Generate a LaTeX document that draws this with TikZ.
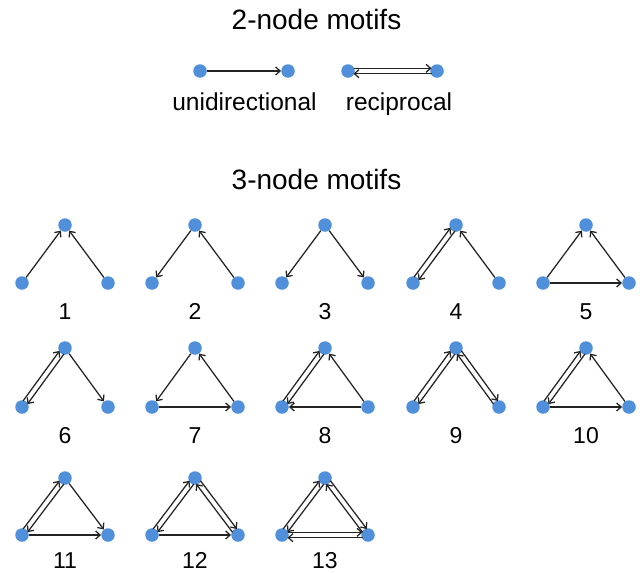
\documentclass[tikz,border=0pt]{standalone}
\usepackage{fontspec}
\setmainfont{Liberation Sans}
\usetikzlibrary{calc,arrows.meta}
\definecolor{nodeblue}{RGB}{80,143,218}
\definecolor{edgegray}{RGB}{35,35,35}
\tikzset{
  dot/.style={circle,fill=nodeblue,inner sep=0pt,minimum size=13.5pt},
  arr/.style={draw=edgegray,line width=1.25pt,-{Straight Barb[length=4.5pt,width=8pt]}},
  title/.style={font=\fontsize{28}{32}\selectfont,inner sep=0pt},
  sub/.style={font=\fontsize{24.5}{28}\selectfont,inner sep=0pt},
  num/.style={font=\fontsize{23}{26}\selectfont,inner sep=0pt,anchor=north},
}
% one-way edge
\newcommand{\uni}[2]{\draw[arr] (#1) -- (#2);}
% reciprocal edge: two parallel lines with opposite arrows
\newcommand{\recip}[2]{%
  \draw[arr,shorten <=5.5pt,shorten >=5.5pt] ($(#1)!2.7pt!90:(#2)$) -- ($(#2)!2.7pt!-90:(#1)$);
  \draw[arr,shorten <=5.5pt,shorten >=5.5pt] ($(#2)!2.7pt!90:(#1)$) -- ($(#1)!2.7pt!-90:(#2)$);}
% triangle of three nodes: name prefix, centre x, top y, bottom y
\newcommand{\tri}[4]{%
  \node[dot] (#1t) at (#2,#3) {};
  \node[dot] (#1l) at (#2-43,#4) {};
  \node[dot] (#1r) at (#2+43,#4) {};}
\begin{document}
\begin{tikzpicture}[x=1pt,y=-1pt]
\useasboundingbox (0,0) rectangle (640,573);
\fill[white] (0,0) rectangle (640,573);

\node[title,anchor=north] (t2) at (316.5,9) {2-node motifs};
\node[dot] (ua) at (200,71) {};
\node[dot] (ub) at (288,71) {};
\node[dot] (ra) at (348,71) {};
\node[dot] (rb) at (437,71) {};
\uni{ua}{ub}
\recip{rb}{ra}
\node[sub,anchor=base] (lu) at (244.5,110) {unidirectional};
\node[sub,anchor=base] (lr) at (399,110) {reciprocal};

\node[title,anchor=north] (t3) at (316.5,169) {3-node motifs};

% row 1
\tri{a}{65}{225}{283}
\tri{b}{195}{225}{283}
\tri{c}{325}{225}{283}
\tri{d}{456}{225}{283}
\tri{e}{586}{225}{283}
% row 2
\tri{f}{65}{348}{407}
\tri{g}{195}{348}{407}
\tri{h}{325}{348}{407}
\tri{i}{456}{348}{407}
\tri{j}{586}{348}{407}
% row 3
\tri{k}{65}{478}{535}
\tri{m}{195}{478}{535}
\tri{n}{325}{478}{535}

% 1
\uni{al}{at} \uni{ar}{at}
% 2
\uni{bt}{bl} \uni{br}{bt}
% 3
\uni{ct}{cl} \uni{ct}{cr}
% 4
\recip{dl}{dt} \uni{dr}{dt}
% 5
\uni{el}{et} \uni{er}{et} \uni{el}{er}
% 6
\recip{fl}{ft} \uni{ft}{fr}
% 7
\uni{gt}{gl} \uni{gr}{gt} \uni{gl}{gr}
% 8
\recip{hl}{ht} \uni{hr}{ht} \uni{hr}{hl}
% 9
\recip{il}{it} \recip{it}{ir}
% 10
\recip{jl}{jt} \uni{jr}{jt} \uni{jl}{jr}
% 11
\recip{kl}{kt} \uni{kt}{kr} \uni{kl}{kr}
% 12
\recip{ml}{mt} \recip{mt}{mr} \uni{ml}{mr}
% 13
\recip{nl}{nt} \recip{nt}{nr} \recip{nr}{nl}

% labels
\node[num] (n1) at (65,303) {1};
\node[num] (n2) at (195,303) {2};
\node[num] (n3) at (325,303) {3};
\node[num] (n4) at (456,303) {4};
\node[num] (n5) at (586,303) {5};
\node[num] (n6) at (65,427) {6};
\node[num] (n7) at (195,427) {7};
\node[num] (n8) at (325,427) {8};
\node[num] (n9) at (456,427) {9};
\node[num] (n10) at (586,427) {10};
\node[num] (n11) at (65,552) {11};
\node[num] (n12) at (195,552) {12};
\node[num] (n13) at (325,552) {13};
\end{tikzpicture}
\end{document}
